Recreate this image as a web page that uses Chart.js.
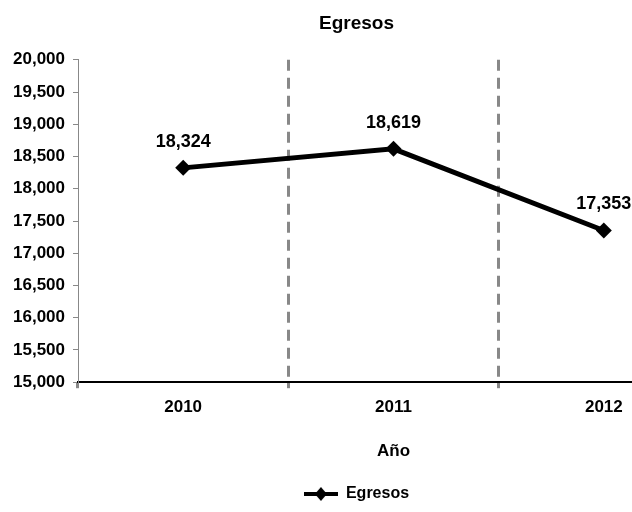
<!DOCTYPE html>
<html>
<head>
<meta charset="utf-8">
<script src="https://cdn.jsdelivr.net/npm/chart.js@4"></script>
<style>
  html, body { margin: 0; padding: 0; overflow: hidden; background: #fff; }
  #wrap { width: 717px; height: 512px; }
</style>
</head>
<body>
<div id="wrap"><canvas id="egresosChart" width="717" height="512"></canvas></div>
<script>
// datos del gráfico
const years = ['2010', '2011', '2012'];
const egresos = [18324, 18619, 17353];
const yTicks = [15000, 15500, 16000, 16500, 17000, 17500, 18000, 18500, 19000, 19500, 20000];

const FONT = "'Liberation Sans', Arial, sans-serif";
const fmt = v => v.toLocaleString('en-US');

// icono de la leyenda: línea con rombo
const legendIcon = document.createElement('canvas');
legendIcon.width = 34;
legendIcon.height = 16;
(function() {
    const c = legendIcon.getContext('2d');
    c.strokeStyle = '#000';
    c.lineWidth = 4;
    c.beginPath();
    c.moveTo(0, 8);
    c.lineTo(34, 8);
    c.stroke();
    c.fillStyle = '#000';
    c.beginPath();
    c.moveTo(17, 1);
    c.lineTo(23, 8);
    c.lineTo(17, 15);
    c.lineTo(11, 8);
    c.closePath();
    c.fill();
})();

// etiquetas con el valor sobre cada punto
const valueLabels = {
    id: 'valueLabels',
    afterDatasetsDraw(chart) {
        const ctx = chart.ctx;
        const meta = chart.getDatasetMeta(0);
        ctx.save();
        ctx.font = 'bold 18px ' + FONT;
        ctx.fillStyle = '#000';
        ctx.textAlign = 'center';
        ctx.textBaseline = 'alphabetic';
        meta.data.forEach((pt, i) => {
            ctx.fillText(fmt(egresos[i]), pt.x, pt.y - 21);
        });
        ctx.restore();
    }
};

const ctx = document.getElementById('egresosChart').getContext('2d');
new Chart(ctx, {
    type: 'line',
    data: {
        labels: years,
        datasets: [{
            label: 'Egresos',
            data: egresos,
            borderColor: '#000',
            backgroundColor: '#000',
            borderWidth: 5,
            pointStyle: 'rectRot',
            pointRadius: 8,
            pointBackgroundColor: '#000',
            pointBorderColor: '#000',
            pointBorderWidth: 0,
            tension: 0
        }]
    },
    options: {
        responsive: false,
        animation: false,
        layout: { padding: { left: 0, right: 4, top: 0, bottom: 0 } },
        plugins: {
            title: {
                display: true,
                text: 'Egresos',
                color: '#000',
                font: { family: FONT, size: 19, weight: 'bold' },
                padding: { top: 12, bottom: 25 }
            },
            legend: {
                position: 'bottom',
                labels: {
                    usePointStyle: true,
                    pointStyle: legendIcon,
                    pointStyleWidth: 34,
                    color: '#000',
                    font: { family: FONT, size: 16, weight: 'bold' },
                    padding: 2
                }
            },
            tooltip: { enabled: false }
        },
        scales: {
            x: {
                offset: true,
                grid: {
                    offset: true,
                    drawOnChartArea: true,
                    color: ctx => ctx.index === 0 ? 'rgba(0,0,0,0)' : '#888888',
                    lineWidth: 3,
                    tickColor: '#888888',
                    tickLength: 6
                },
                border: { color: '#000', width: 2, dash: [11, 7] },
                ticks: {
                    color: '#000',
                    font: { family: FONT, size: 17, weight: 'bold' },
                    padding: 9
                },
                title: {
                    display: true,
                    text: 'Año',
                    color: '#000',
                    font: { family: FONT, size: 17, weight: 'bold' },
                    padding: { top: 15, bottom: 22 }
                }
            },
            y: {
                min: 15000,
                max: 20000,
                afterBuildTicks: axis => {
                    axis.ticks = yTicks.map(v => ({ value: v }));
                },
                afterFit: axis => { axis.width = 78; },
                grid: {
                    drawOnChartArea: false,
                    color: '#888888',
                    tickLength: 5
                },
                border: { color: '#888888', width: 1 },
                ticks: {
                    color: '#000',
                    font: { family: FONT, size: 17, weight: 'bold' },
                    padding: 8,
                    callback: v => fmt(v)
                }
            }
        }
    },
    plugins: [valueLabels]
});
</script>
</body>
</html>
